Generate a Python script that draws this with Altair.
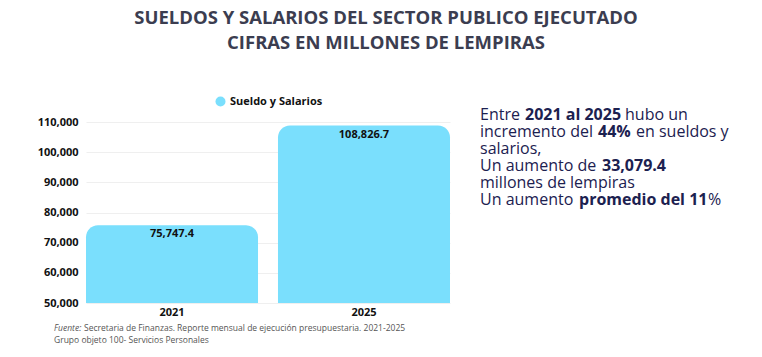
import altair as alt
import pandas as pd

years = ["2021", "2025"]
values = [75747.4, 108826.7]
series_name = "Sueldo y Salarios"
y_ticks = [50000, 60000, 70000, 80000, 90000, 100000, 110000]

title_lines = ["SUELDOS Y SALARIOS DEL SECTOR PUBLICO EJECUTADO", "CIFRAS EN MILLONES DE LEMPIRAS"]

# annotation segments: (text, bold, x start in px relative to text block)
note_lines = [
    [("Entre ", False, 0), ("2021 al 2025", True, 45), ("hubo un", False, 145)],
    [("incremento del ", False, 0), ("44%", True, 118), ("en sueldos y", False, 156)],
    [("salarios,", False, 0)],
    [("Un aumento de ", False, 0), ("33,079.4", True, 122)],
    [("millones de lempiras", False, 0)],
    [("Un aumento ", False, 0), ("promedio del 11", True, 99), ("%", False, 228)],
]
footer_lines = [
    [("Fuente:", True, 0), ("Secretaria de Finanzas. Reporte mensual de ejecución presupuestaria. 2021-2025", False, 30)],
    [("Grupo objeto 100- Servicios Personales", False, 0)],
]

FONT = "Open Sans"
BAR = "#7adffd"
W, H = 364, 181
LEFT, TOP = 86, 122

df = pd.DataFrame({"year": years, "value": values, "serie": [series_name] * len(years)})

x_enc = alt.X("year:N", title=None,
              scale=alt.Scale(paddingInner=0.104, paddingOuter=0),
              axis=alt.Axis(labelAngle=0, labelFont=FONT, labelFontWeight="bold", labelFontSize=11,
                            labelColor="#111", ticks=False, domain=False, labelPadding=3))
y_axis = alt.Axis(values=y_ticks, format=",d", labelFont=FONT, labelFontWeight="bold",
                  labelFontSize=11, labelColor="#111", ticks=False, domain=False,
                  labelOverlap=False, labelPadding=8, gridColor="#efefef")
y_scale = alt.Scale(domain=[50000, 110000], nice=False, zero=False, clamp=True)

bars = alt.Chart(df).mark_bar(
    cornerRadiusTopLeft=12, cornerRadiusTopRight=12
).encode(
    x=x_enc,
    y=alt.Y("value:Q", title=None, stack=None, scale=y_scale, axis=y_axis),
    y2=alt.datum(50000),
    color=alt.Color("serie:N", scale=alt.Scale(range=[BAR]),
                    legend=alt.Legend(title=None, orient="none", legendX=129, legendY=-26,
                                      symbolType="circle", symbolSize=100, symbolStrokeWidth=0,
                                      labelFont=FONT, labelFontWeight="bold", labelFontSize=11,
                                      labelColor="#111")),
)

labels = alt.Chart(df).mark_text(
    font=FONT, fontWeight="bold", fontSize=11, color="#111", baseline="middle", dy=9
).encode(
    x=x_enc,
    y=alt.Y("value:Q", title=None, stack=None, scale=y_scale, axis=y_axis),
    text=alt.Text("value:Q", format=",.1f"),
)

layers = [bars, labels]

# title
for i, t in enumerate(title_lines):
    layers.append(
        alt.Chart(pd.DataFrame({"t": [t]})).mark_text(
            font=FONT, fontWeight="bold", fontSize=18.5, color="#3b3d50", align="center", baseline="middle"
        ).encode(x=alt.value(386 - LEFT), y=alt.value(18 + 25 * i - TOP), text="t:N")
    )

# note block
for li, segs in enumerate(note_lines):
    for text, bold, dx in segs:
        layers.append(
            alt.Chart(pd.DataFrame({"t": [text]})).mark_text(
                font=FONT, fontWeight="bold" if bold else "normal", fontSize=16,
                color="#1c2150", align="left", baseline="middle"
            ).encode(x=alt.value(480 - LEFT + dx), y=alt.value(115 + 17 * li - TOP), text="t:N")
        )

# footer
for li, segs in enumerate(footer_lines):
    for text, ital, dx in segs:
        layers.append(
            alt.Chart(pd.DataFrame({"t": [text]})).mark_text(
                font=FONT, fontStyle="italic" if (ital and li == 0) else "normal", fontSize=8.5,
                color="#555", align="left", baseline="middle"
            ).encode(x=alt.value(54 - LEFT + dx), y=alt.value(328 + 12 * li - TOP), text="t:N")
        )

chart = alt.layer(*layers).properties(
    width=W, height=H,
    autosize=alt.AutoSizeParams(type="none"),
    padding={"left": LEFT, "top": TOP, "right": 762 - LEFT - W, "bottom": 357 - TOP - H},
    background="white",
).configure_view(stroke=None)

chart.save("out.html", embed_options={"renderer": "svg", "actions": False})
